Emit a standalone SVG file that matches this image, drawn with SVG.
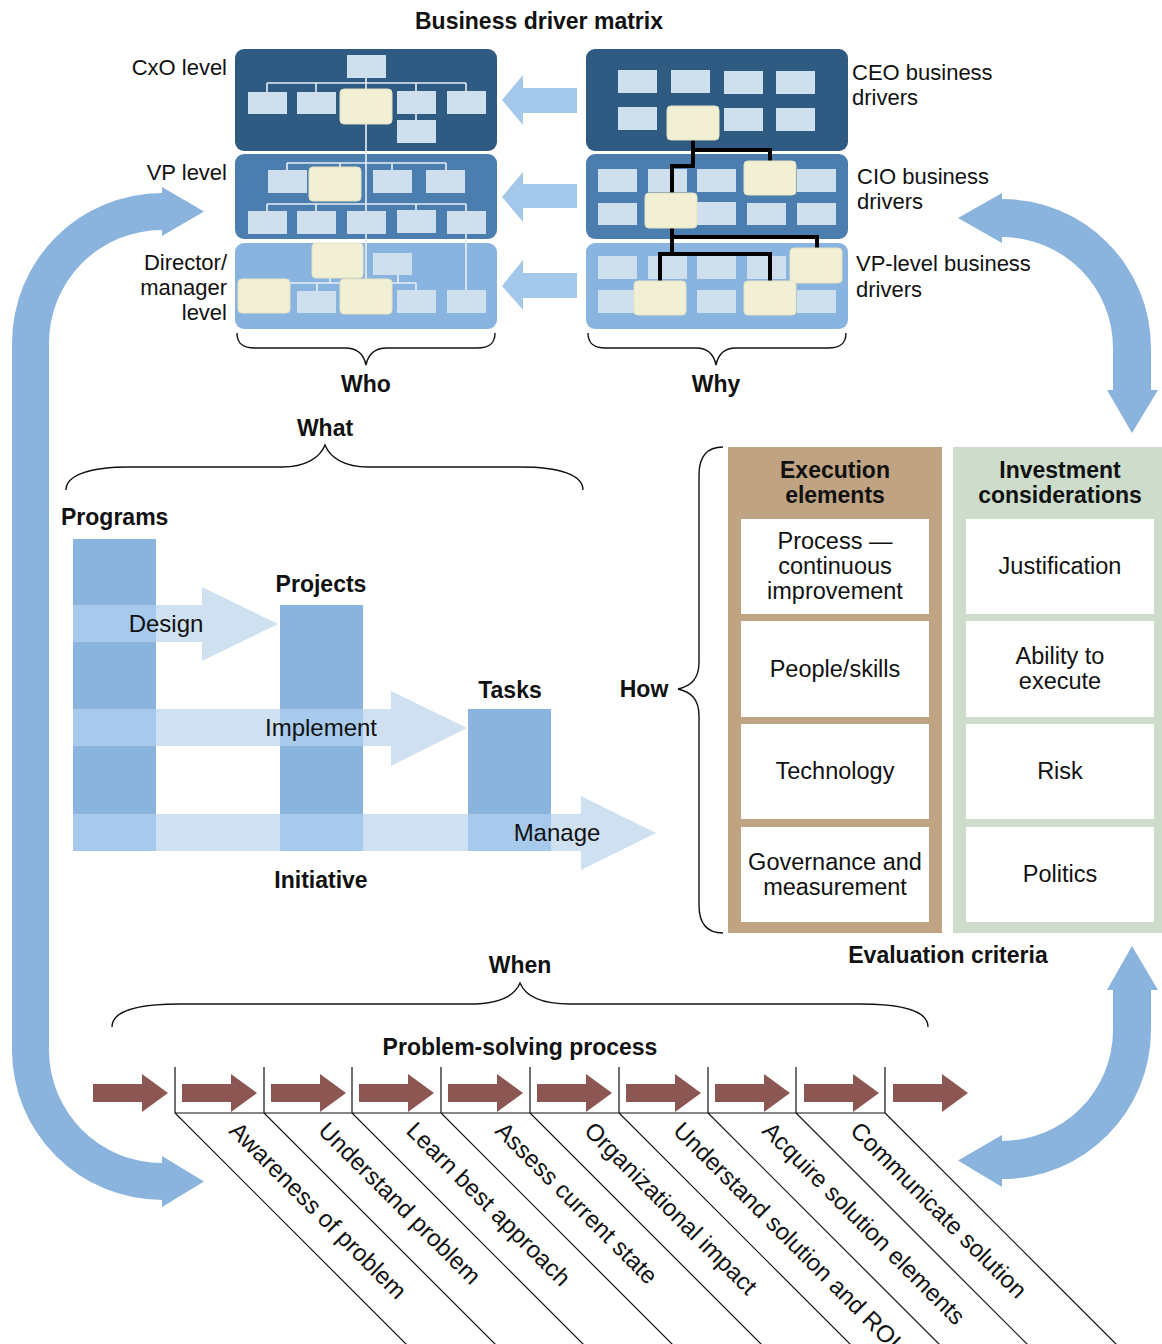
<svg xmlns="http://www.w3.org/2000/svg" width="1162" height="1344" viewBox="0 0 1162 1344">
  <style>
    text { font-family: "Liberation Sans", Arial, sans-serif; fill: #111; }
    .t { font-size: 22px; }
    .b { font-size: 23px; font-weight: bold; }
    .c { font-size: 23.5px; text-anchor: middle; }
    .m { text-anchor: middle; }
    .e { text-anchor: end; }
    .lb { fill: #cfdfee; }
    .cr { fill: #f2f0d4; stroke: #e4e2c2; stroke-width: 1; }
    .wl { stroke: #e6eef6; stroke-width: 1.6; fill: none; }
    .bl { stroke: #000; stroke-width: 4; fill: none; }
    .brace { stroke: #111; stroke-width: 1.4; fill: none; }
    .big { fill: #8ab4de; }
    .small { fill: #a4c8ea; }
    .col { fill: #8ab4de; }
    .arr { fill: #cfe0f0; }
    .ov { fill: #a6c9ec; }
    .pa { fill: #8c5652; }
    .sep { stroke: #111; stroke-width: 1.2; fill: none; }
    .rot { font-size: 24px; }
  </style>

  <!-- large circular feedback arrows -->
  <g id="loop-left">
    <path class="big" d="M162,193 L162,187 L204,211.5 L162,236 L162,230 A113,113 0 0 0 49,343 V1050 A113,113 0 0 0 162,1163 L162,1156 L204,1181.5 L162,1207 L162,1200 A150,150 0 0 1 12,1050 V343 A150,150 0 0 1 162,193 Z"/>
  </g>
  <g id="loop-right-top">
    <path class="big" d="M1002,199 L1002,193 L958,218 L1002,243 L1002,237 A111,111 0 0 1 1113,348 V390 L1107,390 L1132,433 L1158,390 L1151,390 V348 A149,149 0 0 0 1002,199 Z"/>
  </g>
  <g id="loop-right-bottom">
    <path class="big" d="M1113,990 L1107,990 L1132,946 L1158,990 L1151,990 V1030 A149,149 0 0 1 1002,1179 L1002,1187 L958,1160.5 L1002,1135 L1002,1141 A111,111 0 0 0 1113,1030 Z"/>
  </g>

  <!-- title -->
  <text class="b m" x="539" y="29">Business driver matrix</text>

  <!-- Who: organisation matrix -->
  <g id="who-matrix">
    <rect x="235" y="49" width="262" height="102" rx="9" fill="#2f5a82"/>
    <rect x="235" y="154" width="262" height="85" rx="9" fill="#4b7dae"/>
    <rect x="235" y="243" width="262" height="86" rx="9" fill="#8ab4e0"/>
    <!-- reporting lines -->
    <path class="wl" d="M366,78 V289 M267,83 H466 M267,83 V92 M316,83 V92 M416,83 V91 M466,83 V91 M416,114 V120
                        M287,163 H446 M287,163 V170 M340,163 V167 M392,163 V170 M446,163 V170
                        M267,204 H466 M267,204 V211 M316,204 V211 M416,204 V211 M466,204 V290
                        M290,283 H416 M317,283 V291 M416,283 V290 M330,283 V278 M398,283 V275"/>
    <!-- CxO -->
    <rect class="lb" x="347" y="55" width="39" height="23"/>
    <rect class="lb" x="248" y="92" width="39" height="22"/>
    <rect class="lb" x="297" y="92" width="39" height="22"/>
    <rect class="cr" x="340" y="89" width="52" height="35" rx="4"/>
    <rect class="lb" x="397" y="91" width="39" height="23"/>
    <rect class="lb" x="447" y="91" width="39" height="23"/>
    <rect class="lb" x="397" y="120" width="39" height="23"/>
    <!-- VP -->
    <rect class="lb" x="268" y="170" width="39" height="23"/>
    <rect class="cr" x="309" y="167" width="52" height="34" rx="4"/>
    <rect class="lb" x="373" y="170" width="39" height="23"/>
    <rect class="lb" x="426" y="170" width="39" height="23"/>
    <rect class="lb" x="248" y="211" width="39" height="23"/>
    <rect class="lb" x="297" y="211" width="39" height="23"/>
    <rect class="lb" x="347" y="211" width="39" height="23"/>
    <rect class="lb" x="397" y="210" width="39" height="23"/>
    <rect class="lb" x="447" y="211" width="39" height="23"/>
    <!-- Director / manager -->
    <rect class="cr" x="312" y="243" width="51" height="35" rx="4"/>
    <rect class="lb" x="373" y="253" width="39" height="22"/>
    <rect class="cr" x="238" y="279" width="52" height="34" rx="4"/>
    <rect class="lb" x="297" y="291" width="39" height="22"/>
    <rect class="cr" x="340" y="279" width="52" height="35" rx="4"/>
    <rect class="lb" x="397" y="290" width="39" height="23"/>
    <rect class="lb" x="447" y="290" width="39" height="23"/>
  </g>
  <g id="who-labels">
    <text class="t e" x="227" y="75">CxO level</text>
    <text class="t e" x="227" y="180">VP level</text>
    <text class="t e" x="227" y="270">Director/</text>
    <text class="t e" x="227" y="295">manager</text>
    <text class="t e" x="227" y="320">level</text>
  </g>

  <!-- Why: business driver matrix -->
  <g id="why-matrix">
    <rect x="586" y="49" width="262" height="102" rx="9" fill="#2f5a82"/>
    <rect x="586" y="154" width="262" height="85" rx="9" fill="#4b7dae"/>
    <rect x="586" y="243" width="262" height="86" rx="9" fill="#8ab4e0"/>
    <!-- CEO -->
    <rect class="lb" x="618" y="70" width="39" height="23"/>
    <rect class="lb" x="671" y="70" width="39" height="23"/>
    <rect class="lb" x="724" y="71" width="39" height="23"/>
    <rect class="lb" x="776" y="71" width="39" height="23"/>
    <rect class="lb" x="618" y="107" width="39" height="23"/>
    <rect class="lb" x="724" y="108" width="39" height="23"/>
    <rect class="lb" x="776" y="108" width="39" height="23"/>
    <!-- CIO -->
    <rect class="lb" x="598" y="169" width="39" height="23"/>
    <rect class="lb" x="648" y="169" width="39" height="23"/>
    <rect class="lb" x="697" y="169" width="39" height="23"/>
    <rect class="lb" x="797" y="169" width="39" height="23"/>
    <rect class="lb" x="598" y="203" width="39" height="22"/>
    <rect class="lb" x="697" y="202" width="39" height="23"/>
    <rect class="lb" x="747" y="203" width="39" height="22"/>
    <rect class="lb" x="797" y="203" width="39" height="22"/>
    <!-- VP-level -->
    <rect class="lb" x="598" y="256" width="39" height="23"/>
    <rect class="lb" x="648" y="256" width="39" height="23"/>
    <rect class="lb" x="697" y="256" width="39" height="23"/>
    <rect class="lb" x="747" y="256" width="39" height="23"/>
    <rect class="lb" x="598" y="290" width="39" height="23"/>
    <rect class="lb" x="697" y="290" width="39" height="23"/>
    <rect class="lb" x="797" y="290" width="39" height="23"/>
    <!-- driver chain -->
    <path class="bl" d="M693,140 V166 H672 V193 M693,150 H770 V161 M672,228 V254 M672,237 H817 V248 M660,281 V254 H770 V281"/>
    <rect class="cr" x="667" y="106" width="52" height="34" rx="4"/>
    <rect class="cr" x="744" y="161" width="52" height="34" rx="4"/>
    <rect class="cr" x="645" y="193" width="52" height="35" rx="4"/>
    <rect class="cr" x="790" y="248" width="52" height="35" rx="4"/>
    <rect class="cr" x="634" y="281" width="52" height="34" rx="4"/>
    <rect class="cr" x="744" y="281" width="52" height="34" rx="4"/>
  </g>
  <g id="why-labels">
    <text class="t" x="852" y="80">CEO business</text>
    <text class="t" x="852" y="105">drivers</text>
    <text class="t" x="857" y="184">CIO business</text>
    <text class="t" x="857" y="209">drivers</text>
    <text class="t" x="856" y="271">VP-level business</text>
    <text class="t" x="856" y="297">drivers</text>
  </g>

  <!-- mapping arrows between the two matrices -->
  <g id="connectors">
    <path class="small" d="M577,88 H523 V75 L502,100 L523,125 V113 H577 Z"/>
    <path class="small" d="M577,184 H523 V172 L502,197 L523,222 V208 H577 Z"/>
    <path class="small" d="M577,273 H523 V260 L502,286 L523,310 V298 H577 Z"/>
  </g>

  <!-- braces -->
  <g id="braces">
    <path class="brace" d="M237,333 C237,343 242,348 255,348 H345 C358,348 364,355 366,365 C368,355 374,348 387,348 H477 C490,348 495,343 495,333"/>
    <path class="brace" d="M588,333 C588,343 593,348 606,348 H696 C709,348 714,355 716,365 C718,355 723,348 736,348 H828 C841,348 846,343 846,333"/>
    <path class="brace" d="M66,490 C66,475 90,467 130,467 H282 C305,467 320,458 325,445 C330,458 345,467 368,467 H520 C560,467 583,475 583,490"/>
    <path class="brace" d="M723,447 C708,447 699,455 699,475 V662 C699,679 691,686 678,689 C691,692 699,699 699,716 V905 C699,925 708,933 723,933"/>
    <path class="brace" d="M112,1027 C112,1010 140,1004 180,1004 H470 C500,1004 515,995 520,983 C525,995 540,1004 570,1004 H860 C900,1004 928,1010 928,1027"/>
  </g>
  <text class="b m" x="366" y="392">Who</text>
  <text class="b m" x="716" y="392">Why</text>
  <text class="b m" x="325" y="436">What</text>

  <!-- What: programs / projects / tasks -->
  <g id="initiative">
    <rect class="col" x="73" y="539" width="83" height="312"/>
    <rect class="col" x="280" y="605" width="83" height="246"/>
    <rect class="col" x="468" y="709" width="83" height="142"/>
    <path class="arr" d="M73,605 H202 V587 L278,624 L202,661 V642 H73 Z"/>
    <path class="arr" d="M73,709 H391 V691 L467,728 L391,766 V746 H73 Z"/>
    <path class="arr" d="M73,814 H581 V796 L656,833 L581,870 V851 H73 Z"/>
    <rect class="ov" x="73" y="605" width="83" height="37"/>
    <rect class="ov" x="73" y="709" width="83" height="37"/>
    <rect class="ov" x="280" y="709" width="83" height="37"/>
    <rect class="ov" x="73" y="814" width="83" height="37"/>
    <rect class="ov" x="280" y="814" width="83" height="37"/>
    <rect class="ov" x="468" y="814" width="83" height="37"/>
    <text class="m" x="166" y="632" font-size="24">Design</text>
    <text class="m" x="321" y="736" font-size="24">Implement</text>
    <text class="m" x="557" y="841" font-size="24">Manage</text>
  </g>
  <text class="b" x="61" y="525">Programs</text>
  <text class="b m" x="321" y="592">Projects</text>
  <text class="b m" x="510" y="698">Tasks</text>
  <text class="b m" x="321" y="888">Initiative</text>
  <text class="b m" x="644" y="697">How</text>

  <!-- How: evaluation criteria -->
  <g id="execution-elements">
    <rect x="728" y="447" width="214" height="486" fill="#c0a382"/>
    <text class="b m" x="835" y="478">Execution</text>
    <text class="b m" x="835" y="503">elements</text>
    <rect x="741" y="519" width="188" height="95" fill="#fff"/>
    <rect x="741" y="621" width="188" height="96" fill="#fff"/>
    <rect x="741" y="724" width="188" height="95" fill="#fff"/>
    <rect x="741" y="827" width="188" height="95" fill="#fff"/>
    <text class="c" x="835" y="549">Process —</text>
    <text class="c" x="835" y="574">continuous</text>
    <text class="c" x="835" y="599">improvement</text>
    <text class="c" x="835" y="677">People/skills</text>
    <text class="c" x="835" y="779">Technology</text>
    <text class="c" x="835" y="870">Governance and</text>
    <text class="c" x="835" y="895">measurement</text>
  </g>
  <g id="investment-considerations">
    <rect x="953" y="447" width="209" height="486" fill="#cddccb"/>
    <text class="b m" x="1060" y="478">Investment</text>
    <text class="b m" x="1060" y="503">considerations</text>
    <rect x="966" y="519" width="188" height="95" fill="#fff"/>
    <rect x="966" y="621" width="188" height="96" fill="#fff"/>
    <rect x="966" y="724" width="188" height="95" fill="#fff"/>
    <rect x="966" y="827" width="188" height="95" fill="#fff"/>
    <text class="c" x="1060" y="574">Justification</text>
    <text class="c" x="1060" y="664">Ability to</text>
    <text class="c" x="1060" y="689">execute</text>
    <text class="c" x="1060" y="779">Risk</text>
    <text class="c" x="1060" y="882">Politics</text>
  </g>
  <text class="b m" x="948" y="963">Evaluation criteria</text>

  <!-- When: problem-solving process -->
  <text class="b m" x="520" y="973">When</text>
  <text class="b m" x="520" y="1055">Problem-solving process</text>
  <g id="process-arrows">
    <path class="pa" d="M93,1084 H142 V1074 L168,1093 L142,1112 V1102 H93 Z"/>
    <path class="pa" d="M182,1084 H231 V1074 L257,1093 L231,1112 V1102 H182 Z"/>
    <path class="pa" d="M271,1084 H320 V1074 L346,1093 L320,1112 V1102 H271 Z"/>
    <path class="pa" d="M359,1084 H408 V1074 L434,1093 L408,1112 V1102 H359 Z"/>
    <path class="pa" d="M448,1084 H497 V1074 L523,1093 L497,1112 V1102 H448 Z"/>
    <path class="pa" d="M537,1084 H586 V1074 L612,1093 L586,1112 V1102 H537 Z"/>
    <path class="pa" d="M626,1084 H675 V1074 L701,1093 L675,1112 V1102 H626 Z"/>
    <path class="pa" d="M715,1084 H764 V1074 L790,1093 L764,1112 V1102 H715 Z"/>
    <path class="pa" d="M804,1084 H853 V1074 L879,1093 L853,1112 V1102 H804 Z"/>
    <path class="pa" d="M893,1084 H942 V1074 L968,1093 L942,1112 V1102 H893 Z"/>
  </g>
  <g id="process-steps">
    <path class="sep" d="M175,1113 H885
      M175,1067 V1113 L415,1353 M264,1067 V1113 L504,1353 M352,1067 V1113 L592,1353
      M441,1067 V1113 L681,1353 M530,1067 V1113 L770,1353 M619,1067 V1113 L859,1353
      M708,1067 V1113 L948,1353 M796,1067 V1113 L1036,1353 M885,1067 V1113 L1125,1353"/>
    <text class="rot" transform="translate(228,1132) rotate(45)">Awareness of problem</text>
    <text class="rot" transform="translate(317,1132) rotate(45)">Understand problem</text>
    <text class="rot" transform="translate(405,1132) rotate(45)">Learn best approach</text>
    <text class="rot" transform="translate(494,1132) rotate(45)">Assess current state</text>
    <text class="rot" transform="translate(583,1132) rotate(45)">Organizational impact</text>
    <text class="rot" transform="translate(672,1132) rotate(45)">Understand solution and ROI</text>
    <text class="rot" transform="translate(761,1132) rotate(45)">Acquire solution elements</text>
    <text class="rot" transform="translate(849,1132) rotate(45)">Communicate solution</text>
  </g>
</svg>
